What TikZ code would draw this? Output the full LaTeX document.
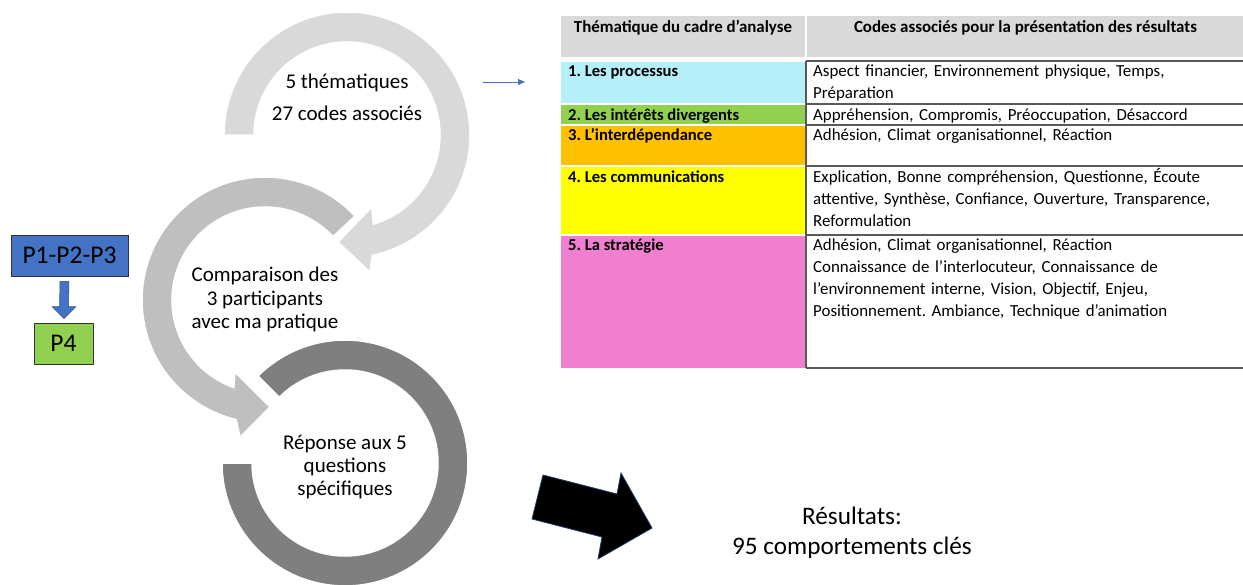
\documentclass[tikz,border=0pt]{standalone}
\usepackage{fontspec}
\setmainfont{Carlito}
\usetikzlibrary{calc,arrows.meta}
\definecolor{ringA}{HTML}{D9D9D9}
\definecolor{ringB}{HTML}{BFBFBF}
\definecolor{ringC}{HTML}{7F7F7F}
\definecolor{hdrgray}{HTML}{D9D9D9}
\definecolor{cyanc}{HTML}{B5F0FA}
\definecolor{greenc}{HTML}{92D050}
\definecolor{orangec}{HTML}{FFC000}
\definecolor{yellowc}{HTML}{FFFF00}
\definecolor{pinkc}{HTML}{F07FCF}
\definecolor{bluebox}{HTML}{4472C4}
\definecolor{blueedge}{HTML}{2F528F}
\definecolor{navyedge}{HTML}{1F3864}
\definecolor{gridline}{HTML}{595959}
\newcommand{\tallstrut}[1]{\rule{0pt}{#1}}

\begin{document}
\frenchspacing
\begin{tikzpicture}[x=1pt,y=1pt,
  ring/.style={draw=white, line width=1.5pt, line join=miter},
  ringtext/.style={align=center, inner sep=0pt, anchor=north},
  hdrtext/.style={font=\bfseries\fontsize{16.9}{19}\selectfont, inner sep=0pt, anchor=base},
  lbltext/.style={font=\bfseries\fontsize{16.6}{19}\selectfont, inner sep=0pt, anchor=base west},
  celltext/.style={font=\fontsize{16.9}{22}\selectfont, inner sep=0pt, anchor=north west,
                   text width=428pt, align=left},
  pbox/.style={draw=black!80, line width=0.9pt, inner sep=0pt,
               minimum height=41pt, font=\fontsize{25.5}{28}\selectfont}
]
\useasboundingbox (0,0) rectangle (1243,-584);

% ---------- three circular arrows ----------
% lowest ring (no head)
\begin{scope}[shift={(345,-463)}]
  \path[fill=ringC, ring] (135:123) arc[start angle=135, end angle=-180, radius=123]
    -- (180:93) arc[start angle=-180, end angle=135, radius=93] -- cycle;
\end{scope}
% middle ring, head pointing into the lowest ring
\begin{scope}[shift={(265,-300)}]
  \path[fill=ringB, ring] (43:123) arc[start angle=43, end angle=256.4, radius=123]
    -- (259.7:139.3) -- (272.7:107.1) -- (247.4:78) -- (250.4:93)
    arc[start angle=250.4, end angle=43, radius=93] -- cycle;
\end{scope}
% top ring, head pointing into the middle ring
\begin{scope}[shift={(347,-135)}]
  \path[fill=ringA, ring] (180:123) arc[start angle=180, end angle=-78.1, radius=123]
    -- (-80.5:138.9) -- (-94.8:107.4) -- (-70.9:76.2) -- (-73.5:93)
    arc[start angle=-73.5, end angle=180, radius=93] -- cycle;
\end{scope}

\node[ringtext, font=\fontsize{21}{32}\selectfont] (themes) at (347,-71)
  {\tallstrut{17pt}5 thématiques\\27 codes associés};
\node[ringtext, font=\fontsize{21}{23.5}\selectfont] (compare) at (265,-264.7)
  {\tallstrut{17pt}Comparaison des\\3 participants\\avec ma pratique};
\node[ringtext, font=\fontsize{21}{23}\selectfont] (answer) at (345,-432.7)
  {\tallstrut{17pt}Réponse aux 5\\questions\\spécifiques};

% ---------- participants ----------
\node[pbox, fill=bluebox, minimum width=117pt] (p123) at (69.5,-255.5) {P1-P2-P3};
\node[pbox, fill=greenc, minimum width=59pt] (p4) at (63.5,-343.5) {P4};
\coordinate (pa) at ($(p123.south)+(-5,-5)$);
\coordinate (pb) at ($(p4.north)+(0.5,4)$);
\fill[bluebox, draw=blueedge, line width=0.5pt]
  ($(pa)+(-4.5,0)$) -- ($(pa)+(4.5,0)$) -- ($(pb)+(4.5,12)$) -- ($(pb)+(12,12)$)
  -- (pb) -- ($(pb)+(-12,12)$) -- ($(pb)+(-4.5,12)$) -- cycle;

% ---------- pointer to the table ----------
\coordinate (ptrA) at (483,-82);
\coordinate (ptrB) at (525,-82);
\draw[bluebox, line width=1pt, -{Triangle[length=7pt,width=6pt]}] (ptrA) -- (ptrB);

% ---------- table ----------
% header
\fill[hdrgray] (561,-16) rectangle (805,-57);
\fill[hdrgray] (807,-16) rectangle (1243,-57);
\node[hdrtext] (h1) at (683,-32) {Thématique du cadre d’analyse};
\node[hdrtext] (h2) at (1025.5,-32) {Codes associés pour la présentation des résultats};
% coloured theme cells
\fill[cyanc]   (561,-62)  rectangle (805,-103);
\fill[greenc]  (561,-105) rectangle (805,-124);
\fill[orangec] (561,-126) rectangle (805,-165);
\fill[yellowc] (561,-167) rectangle (805,-234);
\fill[pinkc]   (561,-236) rectangle (805,-368);
% grid of the code column
\draw[gridline, line width=1.6pt]
  (806,-61) -- (1243,-61)
  (806,-104) -- (1243,-104)
  (806,-125) -- (1243,-125)
  (806,-166) -- (1243,-166)
  (806,-235) -- (1243,-235)
  (806,-368) -- (1243,-368)
  (806,-61) -- (806,-368);

\node[lbltext] (t1) at (568,-76)  {1. Les processus};
\node[lbltext] (t2) at (568,-120) {2. Les intérêts divergents};
\node[lbltext] (t3) at (568,-140) {3. L’interdépendance};
\node[lbltext] (t4) at (568,-182) {4. Les communications};
\node[lbltext] (t5) at (568,-250) {5. La stratégie};

\node[celltext] (c1) at (813,-62)
  {\tallstrut{14pt}Aspect financier, Environnement physique, Temps,\\Préparation};
\node[celltext] (c2) at (813,-106)
  {\tallstrut{14pt}Appréhension, Compromis, Préoccupation, Désaccord};
\node[celltext] (c3) at (813,-126)
  {\tallstrut{14pt}Adhésion, Climat organisationnel, Réaction};
\node[celltext] (c4) at (813,-168)
  {\tallstrut{14pt}Explication, Bonne compréhension, Questionne, Écoute\\attentive, Synthèse, Confiance, Ouverture, Transparence,\\Reformulation};
\node[celltext] (c5) at (813,-236)
  {\tallstrut{14pt}Adhésion, Climat organisationnel, Réaction\\Connaissance de l’interlocuteur, Connaissance de\\l’environnement interne, Vision, Objectif, Enjeu,\\Positionnement. Ambiance, Technique d’animation};

% ---------- result ----------
\fill[black, draw=navyedge, line width=0.8pt]
  (543,-475) -- (617,-494) -- (621,-473) -- (652,-528) -- (598,-559) -- (602,-537) -- (532,-519) -- cycle;
\node[ringtext, font=\fontsize{25.2}{30}\selectfont] (result) at (852,-505)
  {\tallstrut{19pt}Résultats:\\95 comportements clés};
\end{tikzpicture}
\end{document}
